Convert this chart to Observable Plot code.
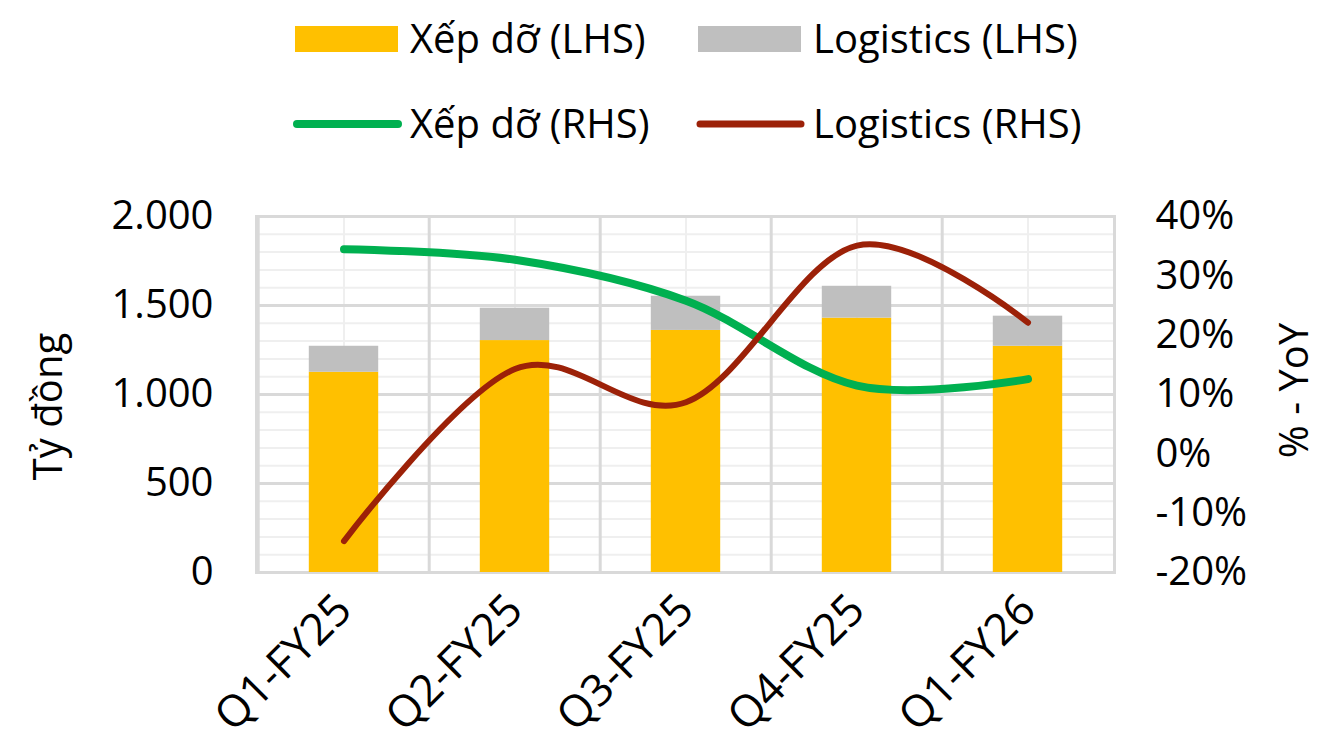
<!DOCTYPE html>
<html>
<head>
<meta charset="utf-8">
<script src="https://cdn.jsdelivr.net/npm/d3@7"></script>
<script src="https://cdn.jsdelivr.net/npm/@observablehq/plot@0.6"></script>
<style>
  html, body { margin: 0; padding: 0; background: #fff; }
  #wrap { position: relative; width: 1343px; height: 751px; font-family: "Open Sans", sans-serif; }
  #legend { position: absolute; left: 0; top: 0; }
  #chart { position: absolute; left: 0; top: 170px; }
</style>
</head>
<body>
<div id="wrap">
  <svg id="legend" width="1343" height="170"></svg>
  <div id="chart"></div>
</div>
<script>
// ---- data ----
const categories = ["Q1-FY25", "Q2-FY25", "Q3-FY25", "Q4-FY25", "Q1-FY26"];
const xepDoLHS = [1125, 1303, 1360, 1429, 1271];      // Tỷ đồng
const logisticsLHS = [146, 182, 192, 179, 169];       // Tỷ đồng
const xepDoRHS = [34.5, 32.7, 25.8, 11.5, 12.6];      // % YoY
const logisticsRHS = [-14.7, 14.3, 8.7, 35.1, 22.1];  // % YoY
const leftTicks = [0, 500, 1000, 1500, 2000];
const rightTicks = [-20, -10, 0, 10, 20, 30, 40];
const seriesNames = ["Xếp dỡ (LHS)", "Logistics (LHS)", "Xếp dỡ (RHS)", "Logistics (RHS)"];
const colors = ["#FFC000", "#BFBFBF", "#00B050", "#9C2108"];

// ---- helpers ----
const leftMax = 2000, rMin = -20, rMax = 40;
const toLeft = p => (p - rMin) / (rMax - rMin) * leftMax;
const fromLeft = v => v / leftMax * (rMax - rMin) + rMin;
const fmtLeft = v => String(v).replace(/\B(?=(\d{3})+(?!\d))/g, ".");

const barRows = [];
categories.forEach((c, i) => {
  barRows.push({cat: c, series: seriesNames[0], value: xepDoLHS[i]});
  barRows.push({cat: c, series: seriesNames[1], value: logisticsLHS[i]});
});

const W = 1343, H = 581;
const mL = 256, mR = 229, mT = 46, mB = 179;
const bw = (W - mL - mR) / categories.length;
const barW = 70;
const inset = (bw - barW) / 2;
const minorY = d3.range(100, 2000, 100).filter(v => v % 500 !== 0);

const chart = Plot.plot({
  width: W,
  height: H,
  marginLeft: mL,
  marginRight: mR,
  marginTop: mT,
  marginBottom: mB,
  style: {fontFamily: "'Open Sans', sans-serif", fontSize: "40px", color: "#000", background: "#fff", overflow: "visible"},
  x: {domain: categories, padding: 0},
  y: {domain: [0, leftMax]},
  color: {domain: seriesNames.slice(0, 2), range: colors.slice(0, 2)},
  marks: [
    Plot.ruleY(minorY, {stroke: "#EFEFEF", strokeWidth: 2}),
    Plot.ruleX(categories, {stroke: "#EFEFEF", strokeWidth: 2}),
    Plot.ruleY(leftTicks, {stroke: "#D9D9D9", strokeWidth: 3}),
    Plot.ruleX(categories, {stroke: "#D9D9D9", strokeWidth: 3, dx: -bw / 2}),
    Plot.frame({stroke: "#D9D9D9", strokeWidth: 3}),
    Plot.barY(barRows, {x: "cat", y: "value", fill: "series", insetLeft: inset, insetRight: inset}),
    Plot.lineY(xepDoRHS.map(toLeft), {x: categories, stroke: colors[2], strokeWidth: 8, curve: "cardinal", strokeLinecap: "round"}),
    Plot.lineY(logisticsRHS.map(toLeft), {x: categories, stroke: colors[3], strokeWidth: 6, curve: "cardinal", strokeLinecap: "round"}),
    Plot.axisY(leftTicks, {anchor: "left", tickSize: 0, tickPadding: 43, tickFormat: fmtLeft, label: null}),
    Plot.axisY(rightTicks.map(toLeft), {anchor: "right", tickSize: 0, tickPadding: 41, textAnchor: "start", tickFormat: v => Math.round(fromLeft(v)) + "%", label: null}),
    Plot.axisX(categories, {anchor: "bottom", tickSize: 0, tickPadding: 30, tickRotate: -45, fontSize: 44, label: null}),
    Plot.text(["Tỷ đồng"], {text: d => d, frameAnchor: "left", textAnchor: "middle", rotate: -90, dx: -207, dy: 12, fill: "#000"}),
    Plot.text(["% - YoY"], {text: d => d, frameAnchor: "right", textAnchor: "middle", rotate: -90, dx: 181, dy: -4, fill: "#000"})
  ]
});
document.getElementById("chart").appendChild(chart);

// ---- legend ----
const lg = d3.select("#legend").style("font-family", "'Open Sans', sans-serif");
const items = [
  {name: seriesNames[0], color: colors[0], kind: "rect", x: 295, textX: 410, y: 39},
  {name: seriesNames[1], color: colors[1], kind: "rect", x: 698, textX: 813, y: 39},
  {name: seriesNames[2], color: colors[2], kind: "line", x: 295, textX: 410, y: 124, w: 8},
  {name: seriesNames[3], color: colors[3], kind: "line", x: 698, textX: 813, y: 124, w: 7}
];
items.forEach(it => {
  if (it.kind === "rect") {
    lg.append("rect").attr("x", it.x).attr("y", it.y - 13).attr("width", 103).attr("height", 26).attr("fill", it.color);
  } else {
    lg.append("line").attr("x1", it.x + 2).attr("x2", it.x + 103).attr("y1", it.y).attr("y2", it.y)
      .attr("stroke", it.color).attr("stroke-width", it.w).attr("stroke-linecap", "round");
  }
  lg.append("text").attr("x", it.textX).attr("y", it.y + 14).attr("font-size", 40).attr("fill", "#000").text(it.name);
});
</script>
</body>
</html>
